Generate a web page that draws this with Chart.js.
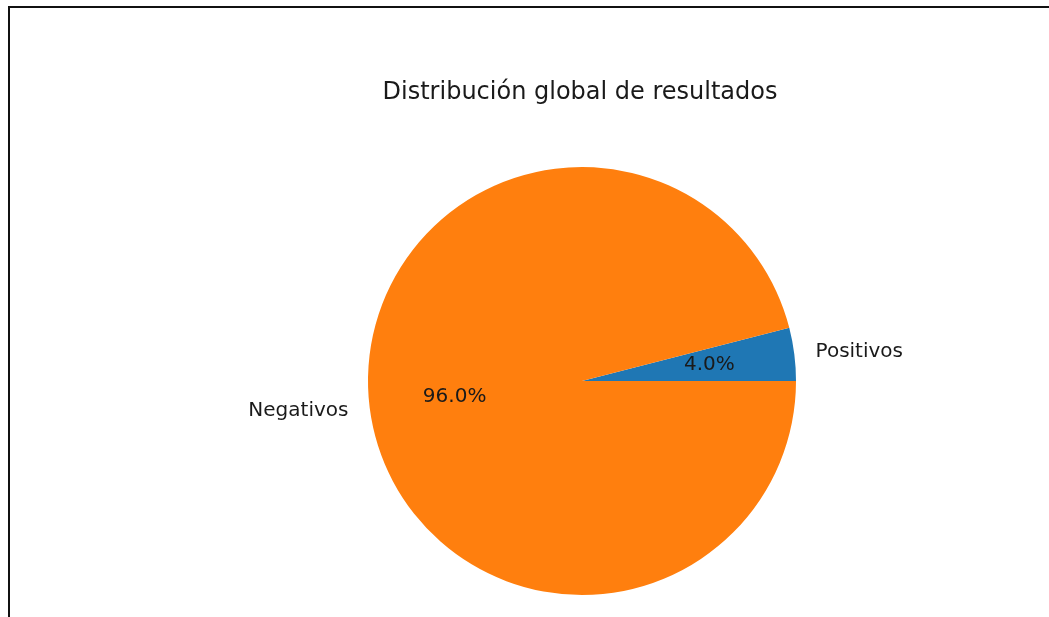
<!DOCTYPE html>
<html><head><meta charset="utf-8">
<script src="https://cdn.jsdelivr.net/npm/chart.js@4"></script>
<style>
html,body{margin:0;padding:0;background:#fff;}
#wrap{position:absolute;left:0;top:0;width:1049px;height:617px;}
#frame{position:absolute;left:8px;top:6px;width:1045px;height:620px;border-top:2px solid #111;border-left:2px solid #111;pointer-events:none;}
canvas{position:absolute;left:0;top:0;}
</style></head>
<body>
<div id="wrap"><canvas id="c" width="1049" height="617"></canvas><div id="frame"></div></div>
<script>
const title = 'Distribución global de resultados';
const categories = ['Positivos', 'Negativos'];
const values = [4.0, 96.0];
const colors = ['#1f77b4', '#ff7f0e'];

const labelPlugin = {
  id: 'mplLabels',
  afterDraw(chart) {
    const ctx = chart.ctx;
    const meta = chart.getDatasetMeta(0);
    const total = values.reduce((a, b) => a + b, 0);
    ctx.save();
    ctx.fillStyle = '#1a1a1a';
    ctx.textBaseline = 'middle';
    meta.data.forEach((arc, i) => {
      const p = arc.getProps(['x', 'y', 'startAngle', 'endAngle', 'outerRadius'], true);
      const mid = (p.startAngle + p.endAngle) / 2;
      const c = Math.cos(mid), s = Math.sin(mid);
      ctx.font = '20px "DejaVu Sans"';
      ctx.textAlign = c >= 0 ? 'left' : 'right';
      ctx.fillText(categories[i], p.x + 1.1 * p.outerRadius * c, p.y + 1.1 * p.outerRadius * s);
      ctx.textAlign = 'center';
      ctx.fillText((values[i] / total * 100).toFixed(1) + '%', p.x + 0.6 * p.outerRadius * c, p.y + 0.6 * p.outerRadius * s);
    });
    const area = chart.chartArea;
    ctx.font = '24px "DejaVu Sans"';
    ctx.textAlign = 'center';
    ctx.fillText(title, (area.left + area.right) / 2 - 2, 93);
    ctx.restore();
  }
};

new Chart(document.getElementById('c'), {
  type: 'pie',
  data: {
    labels: categories,
    datasets: [{ data: values, backgroundColor: colors, borderWidth: 0, hoverOffset: 0 }]
  },
  options: {
    responsive: false,
    animation: false,
    rotation: 90 - 360 * values[0] / 100,
    layout: { padding: { left: 282, right: 167, top: 167, bottom: 22 } },
    plugins: { legend: { display: false }, tooltip: { enabled: false }, title: { display: false } },
    events: []
  },
  plugins: [labelPlugin]
});
</script>
</body></html>
